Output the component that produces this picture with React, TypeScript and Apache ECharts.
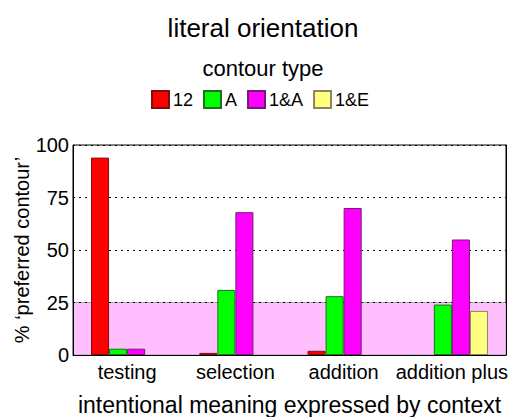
import React, { useEffect, useRef } from "react";
import * as echarts from "echarts";

const categories = ["testing", "selection", "addition", "addition plus"];
const seriesNames = ["12", "A", "1&A", "1&E"];
const values12 = [94, 1, 2, 0];
const valuesA = [3, 31, 28, 24];
const values1A = [3, 68, 70, 55];
const values1E = [0, 0, 0, 21];
const yTicks = [0, 25, 50, 75, 100];
const colors = ["#FF0000", "#00FF00", "#FF00FF", "#FFFF80"];
const borders = ["#7a1010", "#1f6f1f", "#6f1f6f", "#8a8460"];

export default function App() {
  const ref = useRef<HTMLDivElement>(null);
  useEffect(() => {
    document.body.style.margin = "0";
    if (!ref.current) return;
    const chart = echarts.init(ref.current, undefined, { renderer: "svg" });
    const allValues = [values12, valuesA, values1A, values1E];
    const font = "Liberation Sans, Arial, sans-serif";
    chart.setOption({
      animation: false,
      textStyle: { fontFamily: font, color: "#000" },
      title: [
        {
          text: "literal orientation",
          left: 258,
          textAlign: "center",
          top: 10,
          textStyle: { fontSize: 26, fontWeight: "normal", color: "#000", fontFamily: font },
        },
        {
          text: "contour type",
          left: 258,
          textAlign: "center",
          top: 52,
          textStyle: { fontSize: 22, fontWeight: "normal", color: "#000", fontFamily: font },
        },
      ],
      legend: {
        data: seriesNames,
        top: 90,
        left: 151,
        padding: 0,
        itemWidth: 17,
        itemHeight: 17,
        itemGap: 10,
        icon: "rect",
        textStyle: { fontSize: 18, color: "#000", fontFamily: font, padding: [0, 0, 0, -1] },
      },
      grid: {
        left: 73,
        right: 6,
        top: 145,
        bottom: 62,
        containLabel: false,
        outerBoundsMode: "none",
        show: true,
        borderColor: "#000",
        borderWidth: 1,
        backgroundColor: "#fff",
      },
      xAxis: {
        type: "category",
        data: categories,
        z: 1.5,
        name: "intentional meaning expressed by context",
        nameLocation: "middle",
        nameGap: 38,
        nameMoveOverlap: false,
        nameTextStyle: { fontSize: 23, color: "#000", fontFamily: font },
        axisLine: { show: true, lineStyle: { color: "#000" } },
        axisTick: { show: false },
        axisLabel: { fontSize: 20, color: "#000", margin: 7, fontFamily: font, interval: 0 },
      },
      yAxis: [
        {
          type: "value",
          min: 0,
          max: 100,
          interval: 25,
          z: 1.5,
          name: "% \u2018preferred contour\u2019",
          nameLocation: "middle",
          nameGap: 41,
          nameMoveOverlap: false,
          nameTextStyle: { fontSize: 20, color: "#000", fontFamily: font },
          axisLine: { show: true, lineStyle: { color: "#000" } },
          axisTick: { show: false },
          axisLabel: {
            fontSize: 20,
            color: "#000",
            margin: 4,
            fontFamily: font,
            formatter: (v: number) => (yTicks.includes(v) ? String(v) : ""),
          },
          splitLine: { show: true, lineStyle: { color: "#000", type: [2, 4], width: 1 } },
        },
        {
          type: "value",
          position: "right",
          min: 0,
          max: 100,
          interval: 25,
          z: 1.5,
          axisLine: { show: true, lineStyle: { color: "#000" } },
          axisTick: { show: false },
          axisLabel: { show: false },
          splitLine: { show: false },
        },
      ],
      series: seriesNames.map((name, i) => ({
        name,
        type: "bar",
        data: allValues[i].map((v) =>
          v === 0 ? { value: v, itemStyle: { borderWidth: 0, opacity: 0 } } : v
        ),
        barGap: "0%",
        barCategoryGap: "33.3%",
        itemStyle: { color: colors[i], borderColor: borders[i], borderWidth: 1 },
        ...(i === 0
          ? {
              markArea: {
                silent: true,
                itemStyle: {
                  color: "#FFBFFF",
                  borderColor: "#a0a0a0",
                  borderWidth: 1,
                },
                data: [[{ yAxis: 0 }, { yAxis: 25 }]],
              },
            }
          : {}),
      })),
    });
    return () => chart.dispose();
  }, []);
  return <div ref={ref} style={{ width: 512, height: 417 }} />;
}
